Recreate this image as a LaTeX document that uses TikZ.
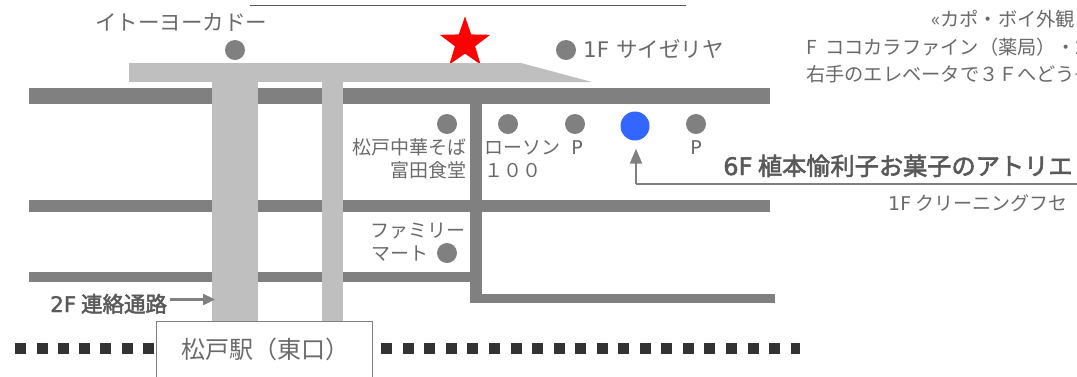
\documentclass[tikz,border=0pt]{standalone}
\usepackage{fontspec}
\setmainfont{Noto Sans CJK JP}
\newfontfamily\lat{DejaVu Sans}
\newfontfamily\jpb[FakeBold=2.4]{Noto Sans CJK JP}
\newfontfamily\latb[FakeBold=1.6]{DejaVu Sans}
\usetikzlibrary{shapes.geometric,arrows.meta,calc}
\definecolor{road}{HTML}{808080}
\definecolor{bridge}{HTML}{BFBFBF}
\definecolor{ink}{HTML}{6A6A6A}
\definecolor{inkd}{HTML}{595959}
\definecolor{rail}{HTML}{333333}
\definecolor{spotblue}{HTML}{3366FF}
\tikzset{
  roadbar/.style={fill=road,draw=none},
  bridgebar/.style={fill=bridge,draw=none},
  spot/.style={circle,fill=road,draw=none,minimum size=20pt,inner sep=0pt},
  lbl/.style={text=ink,inner sep=0pt,font=\fontsize{19}{19}\selectfont},
  lblm/.style={text=ink,inner sep=0pt,font=\fontsize{19.25}{19.25}\selectfont},
  lbll/.style={text=ink,inner sep=0pt,font=\fontsize{21.5}{21.5}\selectfont},
  lblb/.style={text=inkd,inner sep=0pt,font=\fontsize{24.2}{24.2}\selectfont\jpb},
  sq/.style={fill=rail,draw=none,minimum size=11pt,inner sep=0pt},
  arr/.style={draw=road,line width=2.4pt,-{Triangle[length=12pt,width=11pt]}}
}
\begin{document}
\begin{tikzpicture}[x=1pt,y=-1pt]
\useasboundingbox (0,0) rectangle (1077,376);
\clip (0,0) rectangle (1077,376);
\fill[white] (0,0) rectangle (1077,376);
% top line
\coordinate (tl) at (250,5); \coordinate (tr) at (686,5);
\draw[draw=inkd,line width=0.8pt] (tl) -- (tr);
% star
\node[star,star points=5,star point ratio=2.5,fill=red,draw=none,minimum size=53pt,inner sep=0pt] (star) at (465,43) {};
% roads
\fill[roadbar] (29,88) rectangle (770,104);
\fill[roadbar] (29,200) rectangle (770,212);
\fill[roadbar] (29,272) rectangle (475,282);
\fill[roadbar] (470,104) rectangle (482,303);
\fill[roadbar] (470,294) rectangle (775,303);
% bridges
\fill[bridgebar] (129,63) rectangle (521,82);
\fill[bridgebar] (521,63) -- (592,82) -- (521,82) -- cycle;
\fill[bridgebar] (212,82) rectangle (258,322);
\fill[bridgebar] (322,82) rectangle (343,323);
% spots
\node[spot] (ito) at (235,50) {};
\node[spot] (sai) at (566,50) {};
\node[spot] (mat) at (447,124) {};
\node[spot] (law) at (508,124) {};
\node[spot] (p1) at (575,124) {};
\node[spot] (p2) at (696,124) {};
\node[spot] (fam) at (447,253) {};
\node[circle,fill=spotblue,minimum size=29pt,inner sep=0pt] (atelier) at (635,126) {};
% labels
\node[lbll,anchor=base west] (itol) at (95,30) {イトーヨーカドー};
\node[lbll,anchor=base west] (sail) at (583,57) {{\lat 1F}\hspace{2pt} サイゼリヤ};
\node[lbl,anchor=base east] (matl) at (467,154) {松戸中華そば};
\node[lbl,anchor=base east] (toml) at (467,177) {富田食堂};
\node[lbl,anchor=base west] (lawl) at (484,154) {ローソン};
\node[lbl,anchor=base west] (hyak) at (484,177) {１００};
\node[lbl,anchor=base] (p1l) at (577,154) {\lat P};
\node[lbl,anchor=base] (p2l) at (696,154) {\lat P};
\node[lblb,anchor=base west] (atl) at (723,175) {{\latb 6F} 植本愉利子お菓子のアトリエ};
\node[lbl,anchor=base west] (cln) at (888,210) {{\lat 1F} クリーニングフセ};
\node[lblm,anchor=base west] (t1) at (931,26) {«カポ・ボイ外観};
\node[lblm,anchor=base west] (t2) at (806,54) {F\hspace{4pt} ココカラファイン（薬局）・2};
\node[lblm,anchor=base west] (t3) at (806,81) {右手のエレベータで３Ｆへどうぞ};
\node[lbl,anchor=base east] (fal) at (466,237) {ファミリー};
\node[lbl,anchor=base west] (mal) at (371,260) {マート};
\node[lbl,anchor=base west,text=inkd,font=\fontsize{21.5}{21.5}\selectfont\jpb] (renr) at (50,312) {{\latb 2F} 連絡通路};
% station
\node[draw=road,fill=white,line width=0.8pt,minimum width=216pt,minimum height=70pt,inner sep=0pt,anchor=north west] (sta) at (156,321) {};
\node[lbl,anchor=base west,font=\fontsize{24}{24}\selectfont] (stal) at (181,358) {松戸駅（東口）};
% rails
\foreach \i in {0,...,6}{\node[sq,anchor=north west] (l\i) at ({15+21.3*\i},343) {};}
\foreach \i in {0,...,18}{\node[sq,anchor=north west] (r\i) at ({381+21.55*\i},343) {};}
\node[sq,minimum width=9pt,anchor=north west] (r19) at (791,343) {};
% arrows
\coordinate (fe) at (1077,184);
\coordinate (corner) at (636,184);
\coordinate (tip) at ($(atelier.south)+(1,8)$);
\draw[draw=road,line width=1.2pt] (fe) -- (corner);
\draw[arr,-{Triangle[length=15pt,width=12pt]}] (corner) -- (tip);
\coordinate (bridgeL) at (215,299.5);
\draw[arr] (renr.east |- bridgeL) ++(3,0) -- (bridgeL);
\end{tikzpicture}
\end{document}
